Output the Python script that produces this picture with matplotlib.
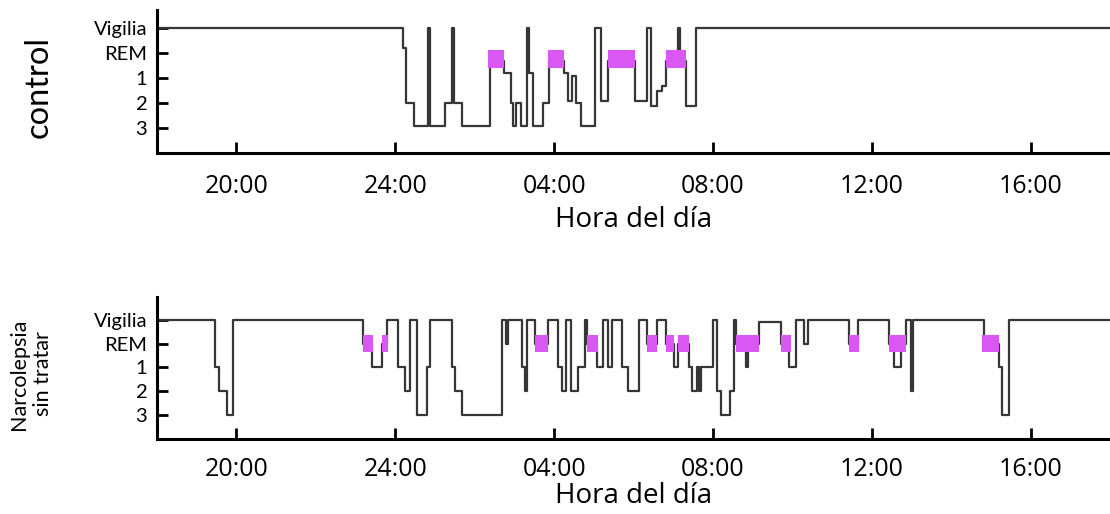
import matplotlib
matplotlib.use("Agg")
import matplotlib.pyplot as plt

# hours counted from 18:00 of day 1 (24 = midnight, 42 = 18:00 next day)
STAGE_LABELS = ["Vigilia", "REM", "1", "2", "3"]
HOUR_TICKS = [20, 24, 28, 32, 36, 40]
HOUR_LABELS = ["20:00", "24:00", "04:00", "08:00", "12:00", "16:00"]

# control hypnogram: start time of each epoch and its stage level
CONTROL_T = [18.00, 24.19, 24.28, 24.47, 24.82, 24.87, 25.25, 25.42, 25.47, 25.67,
             26.38, 26.75, 26.91, 26.96, 27.03, 27.16, 27.33, 27.38, 27.48, 27.71,
             27.86, 28.26, 28.34, 28.44, 28.54, 28.69, 29.04, 29.19, 29.35, 30.03,
             30.35, 30.45, 30.60, 30.73, 30.83, 31.13, 31.18, 31.33, 31.58]
CONTROL_STAGE = [0, 0.8, 3, 3.9, 0, 3.9, 3, 0, 3, 3.9,
                 1.3, 1.8, 3, 3.9, 3, 3.9, 0, 1.8, 3.9, 3,
                 1.3, 1.8, 2.9, 1.9, 3, 3.9, 0, 2.9, 1.3, 2.9,
                 0, 3.1, 2.5, 2.3, 1.3, 0, 1.3, 3.1, 0]
CONTROL_REM_START = [26.33, 27.84, 29.35, 30.83]
CONTROL_REM_END = [26.75, 28.26, 30.03, 31.33]

# untreated narcolepsy hypnogram
NARCO_T = [18.00, 19.46, 19.56, 19.76, 19.91,
           23.18, 23.41, 23.66, 23.79, 24.06, 24.24, 24.36, 24.54, 24.79, 24.87,
           25.42, 25.50, 25.67, 26.70, 26.78, 26.83, 27.18, 27.28, 27.33,
           27.51, 27.84, 28.09, 28.21, 28.31, 28.42, 28.59, 28.77, 28.82,
           29.07, 29.22, 29.37, 29.47, 29.70, 29.85, 30.15, 30.35, 30.58,
           30.83, 31.03, 31.11, 31.41, 31.48, 31.61, 31.66, 31.71, 31.99,
           32.11, 32.21, 32.42, 32.54, 32.59, 32.84, 32.89, 33.17, 33.72,
           33.92, 34.10, 34.30, 34.40, 35.43, 35.66, 36.44, 36.57, 36.74,
           36.87, 36.99, 37.04, 38.83, 39.21, 39.28, 39.46]
NARCO_STAGE = [0, 2, 3, 4, 0,
               1, 2, 1, 0, 2, 3, 0, 4, 2, 0,
               2, 3, 4, 0, 1, 0, 2, 3, 0,
               1, 0, 2, 3, 0, 3, 2, 0, 1,
               2, 0, 2, 0, 2, 3, 0, 1, 0,
               1, 2, 1, 2, 3, 2, 3, 2, 0,
               3, 4, 3, 0, 1, 2, 1, 0.1, 1,
               2, 0, 1, 0, 1, 0, 1, 2, 1,
               0, 3, 0, 1, 2, 4, 0]
NARCO_REM_START = [23.18, 23.66, 27.51, 28.82, 30.35, 30.83, 31.11,
                   32.59, 33.72, 35.43, 36.44, 38.78]
NARCO_REM_END = [23.43, 23.81, 27.84, 29.10, 30.58, 31.03, 31.41,
                 33.17, 33.97, 35.69, 36.87, 39.21]

W, H = 1110, 514
PINK = "#d957f2"
TRACE = "#363636"
LABEL_FONT = "Lato"
AXIS_FONT = "Open Sans"


def draw_panel(ax, times, stages, rem_start, rem_end, rem_band, ylim, xpad, lpad):
    t = list(times) + [42.0]
    s = list(stages) + [stages[-1]]
    ax.step(t, s, where="post", color=TRACE, lw=1.6, zorder=2)
    spans = [(a, b - a) for a, b in zip(rem_start, rem_end)]
    ax.broken_barh(spans, rem_band, facecolors=PINK, edgecolor="none", zorder=3)

    ax.set_xlim(18, 42)
    ax.set_ylim(*ylim)
    ax.set_yticks(range(len(STAGE_LABELS)), STAGE_LABELS)
    ax.set_xticks(HOUR_TICKS, HOUR_LABELS)
    for side in ("top", "right"):
        ax.spines[side].set_visible(False)
    for side in ("left", "bottom"):
        ax.spines[side].set_linewidth(2.2)
        ax.spines[side].set_color("black")
    ax.tick_params(axis="both", direction="in", length=8, width=2, color="black")
    ax.tick_params(axis="y", pad=7, labelsize=14.5)
    ax.tick_params(axis="x", pad=xpad, labelsize=18)
    for lab in ax.get_yticklabels():
        lab.set_family(LABEL_FONT)
    for lab in ax.get_xticklabels():
        lab.set_family(AXIS_FONT)
    ax.set_xlabel("Hora del día", family=AXIS_FONT, fontsize=20, labelpad=lpad)
    ax.set_facecolor("none")


fig = plt.figure(figsize=(W / 100, H / 100), dpi=100)
ax_top = fig.add_axes([157 / W, 1 - 153 / H, 1 - 157 / W, (153 - 10) / H])
ax_bot = fig.add_axes([157 / W, 1 - 439 / H, 1 - 157 / W, (439 - 297) / H])

draw_panel(ax_top, CONTROL_T, CONTROL_STAGE, CONTROL_REM_START, CONTROL_REM_END,
           (0.88, 0.72), (5.0, -0.72), 15, 5)
draw_panel(ax_bot, NARCO_T, NARCO_STAGE, NARCO_REM_START, NARCO_REM_END,
           (0.66, 0.71), (5.0, -0.95), 13, 0)

fig.text(39 / W, 1 - 87 / H, "control", rotation=90, ha="center", va="center",
         family=LABEL_FONT, fontsize=23.5)
fig.text(31 / W, 1 - 374 / H, "Narcolepsia\nsin tratar", rotation=90,
         ha="center", va="center", family=LABEL_FONT, fontsize=15.5,
         linespacing=1.3)

fig.savefig("out.png", dpi=100)
